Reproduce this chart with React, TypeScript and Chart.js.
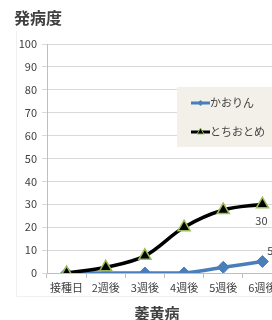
import React, { useEffect, useRef } from "react";
import { Chart, registerables } from "chart.js";

Chart.register(...registerables);

const categories = ["接種日", "2週後", "3週後", "4週後", "5週後", "6週後"];
const kaorinValues = [0, 0, 0, 0, 2.5, 5];
const tochiotomeValues = [0, 2.5, 7.5, 20, 27.5, 30];
const seriesNames = ["かおりん", "とちおとめ"];
const yTitle = "発病度";
const xTitle = "萎黄病";
const yMin = 0;
const yMax = 100;
const yStep = 10;

const FONT = "'Noto Sans CJK JP', 'Noto Sans', sans-serif";
const BLUE = "#4a7ebb";
const BLACK = "#000000";
const OLIVE = "#9bbb59";
const TEXT = "#404040";

const overlayPlugin = {
  id: "overlay",
  beforeDraw(chart: any) {
    const ctx = chart.ctx;
    ctx.save();
    ctx.strokeStyle = "#f0f0f0";
    ctx.lineWidth = 1;
    ctx.beginPath();
    ctx.moveTo(16.5, 31);
    ctx.lineTo(16.5, 296.5);
    ctx.lineTo(300, 296.5);
    ctx.stroke();
    ctx.restore();
  },
  afterDatasetsDraw(chart: any) {
    const ctx = chart.ctx;
    ctx.save();
    // data labels on last points
    ctx.font = `11px ${FONT}`;
    ctx.fillStyle = TEXT;
    ctx.textAlign = "center";
    ctx.textBaseline = "middle";
    const kMeta = chart.getDatasetMeta(1);
    const tMeta = chart.getDatasetMeta(0);
    const last = categories.length - 1;
    const tp = tMeta.data[last];
    ctx.fillText(String(tochiotomeValues[last]), tp.x - 1, tp.y + 17);
    const kp = kMeta.data[last];
    ctx.fillText(String(kaorinValues[last]), kp.x + 8, kp.y - 11);

    // titles
    ctx.fillStyle = TEXT;
    ctx.font = `bold 16px ${FONT}`;
    ctx.textAlign = "left";
    ctx.fillText(yTitle, 14, 18);
    ctx.font = `bold 15px ${FONT}`;
    ctx.textAlign = "center";
    ctx.fillText(xTitle, 157, 313);

    // legend
    const lx = 177;
    const ly = 87;
    ctx.fillStyle = "#f2f0e8";
    ctx.fillRect(lx, ly, 130, 60);
    const rows = [
      { name: seriesNames[0], color: BLUE, y: 103, style: "diamond" },
      { name: seriesNames[1], color: BLACK, y: 132, style: "triangle" },
    ];
    for (const r of rows) {
      ctx.strokeStyle = r.color;
      ctx.lineWidth = 3;
      ctx.beginPath();
      ctx.moveTo(191, r.y);
      ctx.lineTo(210, r.y);
      ctx.stroke();
      if (r.style === "diamond") {
        ctx.fillStyle = BLUE;
        ctx.beginPath();
        ctx.moveTo(200.5, r.y - 3);
        ctx.lineTo(203.5, r.y);
        ctx.lineTo(200.5, r.y + 3);
        ctx.lineTo(197.5, r.y);
        ctx.closePath();
        ctx.fill();
      } else {
        ctx.fillStyle = BLACK;
        ctx.strokeStyle = OLIVE;
        ctx.lineWidth = 1;
        ctx.beginPath();
        ctx.moveTo(200.5, r.y - 4);
        ctx.lineTo(204, r.y + 2);
        ctx.lineTo(197, r.y + 2);
        ctx.closePath();
        ctx.fill();
        ctx.stroke();
      }
      ctx.fillStyle = TEXT;
      ctx.font = `11px ${FONT}`;
      ctx.textAlign = "left";
      ctx.textBaseline = "middle";
      ctx.fillText(r.name, 210, r.y);
    }
    ctx.restore();
  },
};

export default function App() {
  const ref = useRef<HTMLCanvasElement | null>(null);
  useEffect(() => {
    if (!ref.current) return;
    const chart = new Chart(ref.current, {
      type: "line",
      data: {
        labels: categories,
        datasets: [
          {
            label: seriesNames[1],
            data: tochiotomeValues,
            borderColor: BLACK,
            backgroundColor: BLACK,
            borderWidth: 3.5,
            tension: 0.35,
            pointStyle: "triangle",
            pointRadius: 7,
            pointBackgroundColor: BLACK,
            pointBorderColor: OLIVE,
            pointBorderWidth: 1.5,
          },
          {
            label: seriesNames[0],
            data: kaorinValues,
            borderColor: BLUE,
            backgroundColor: BLUE,
            borderWidth: 3.5,
            tension: 0.35,
            pointStyle: "rectRot",
            pointRadius: 6,
            pointBackgroundColor: BLUE,
            pointBorderColor: BLUE,
            pointBorderWidth: 1,
          },
        ],
      },
      options: {
        responsive: false,
        animation: false,
        layout: { padding: { left: 0, top: 44, right: 18, bottom: 0 } },
        plugins: {
          legend: { display: false },
          tooltip: { enabled: false },
          title: { display: false },
        },
        scales: {
          x: {
            offset: true,
            grid: {
              display: true,
              drawOnChartArea: false,
              offset: true,
              tickLength: 5,
              color: "#bfbfbf",
            },
            border: { display: true, color: "#bfbfbf" },
            ticks: {
              font: { family: FONT, size: 11 },
              color: TEXT,
              padding: 3,
              maxRotation: 0,
              autoSkip: false,
            },
            afterFit: (s: any) => {
              s.height = 47;
            },
          },
          y: {
            min: yMin,
            max: yMax,
            grid: { color: "#d9d9d9", tickLength: 5 },
            border: { display: true, color: "#bfbfbf" },
            ticks: {
              stepSize: yStep,
              font: { family: FONT, size: 11 },
              color: TEXT,
              padding: 5,
            },
            afterFit: (s: any) => {
              s.width = 47;
            },
          },
        },
      },
      plugins: [overlayPlugin],
    });
    return () => chart.destroy();
  }, []);
  return (
    <div
      style={{
        position: "absolute",
        left: 0,
        top: 0,
        width: 272,
        height: 320,
        overflow: "hidden",
        background: "#ffffff",
      }}
    >
      <canvas ref={ref} width={300} height={320} style={{ display: "block" }} />
    </div>
  );
}
